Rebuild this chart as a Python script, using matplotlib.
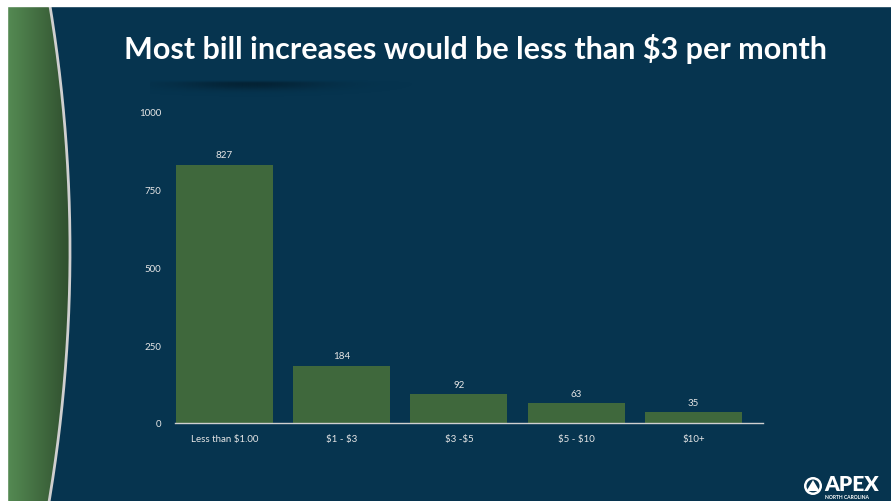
import numpy as np
import matplotlib
matplotlib.use("Agg")
import matplotlib.pyplot as plt
from matplotlib.patches import Rectangle, Polygon, Circle

plt.rcParams["text.parse_math"] = False

# ---- data ----
categories = ["Less than $1.00", "$1 - $3", "$3 -$5", "$5 - $10", "$10+"]
counts = [827, 184, 92, 63, 35]
yticks = [0, 250, 500, 750, 1000]
title = "Most bill increases would be less than $3 per month"

NAVY = "#06344F"
BAR = "#3F683C"
TXT = "#E6E6E6"

W, H = 891, 502
fig = plt.figure(figsize=(W / 100, H / 100), dpi=100)
fig.patch.set_facecolor(NAVY)

# ---- background decoration (pixel coordinates) ----
bg = fig.add_axes([0, 0, 1, 1], zorder=0)
bg.set_xlim(0, W)
bg.set_ylim(H, 0)
bg.axis("off")
bg.add_patch(Rectangle((0, 0), W, H, color=NAVY, zorder=0))

ys = np.linspace(0, H, 300)
xc = 70 - 20 * ((ys - 252) / 245.0) ** 2

# green gradient band clipped to the curve
grad = np.linspace(0, 1, 200)[None, :]
c0 = np.array([0x55, 0x8B, 0x53]) / 255
c1 = np.array([0x2E, 0x4D, 0x2D]) / 255
img = c0[None, None, :] * (1 - grad[..., None]) + c1[None, None, :] * grad[..., None]
img = np.repeat(img, 2, axis=0)
im = bg.imshow(img, extent=[7, 72, H, 0], aspect="auto", zorder=1, interpolation="bilinear")
poly = Polygon(np.column_stack([np.r_[7, xc, 7], np.r_[0, ys, H]]), closed=True,
               transform=bg.transData, facecolor="none", edgecolor="none")
bg.add_patch(poly)
im.set_clip_path(poly)
bg.plot(xc, ys, color="#CFCFCF", lw=2.0, zorder=2)

# white margins
bg.add_patch(Rectangle((0, 0), W, 7, color="white", zorder=5))
bg.add_patch(Rectangle((0, 0), 7, H, color="white", zorder=5))

# title shadow
gx = np.linspace(-1, 1, 300)
gy = np.linspace(-1, 1, 60)
GX, GY = np.meshgrid(gx, gy)
alpha = np.exp(-((GX + 0.3) ** 2) / 0.25) * np.exp(-(GY ** 2) / 0.15) * 0.55
alpha[GY < -0.1] *= np.clip((GY[GY < -0.1] + 0.25) / 0.15, 0, 1)
shadow = np.zeros((60, 300, 4))
shadow[..., 0:3] = np.array([0x03, 0x15, 0x20]) / 255
shadow[..., 3] = alpha
bg.imshow(shadow, extent=[150, 440, 100, 70], aspect="auto", zorder=1, interpolation="bilinear")

# title
fig.text(476 / W, 1 - 49 / H, title, color="white", fontsize=22, fontweight="bold",
         family="Lato", ha="center", va="center")

# logo
bg.add_patch(Circle((813, 487), 9, facecolor="white", edgecolor="none", zorder=3))
bg.add_patch(Circle((813, 487), 6.5, facecolor=NAVY, edgecolor="none", zorder=3))
bg.add_patch(Polygon([[806.5, 492], [813, 481], [819.5, 492]], closed=True,
                     facecolor="white", edgecolor="none", zorder=4))
bg.text(824, 485, "APEX", color="white", fontsize=15, fontweight="heavy", family="Lato",
        ha="left", va="center", zorder=4)
bg.text(825, 497.5, "NORTH CAROLINA", color="white", fontsize=3.6, fontweight="bold",
        family="Lato", ha="left", va="center", zorder=4)

# ---- chart ----
ax = fig.add_axes([175 / W, (H - 424) / H, 588 / W, 312 / H], zorder=2)
ax.set_facecolor("none")
x = np.arange(len(categories))
bars = ax.bar(x, counts, width=0.827, color=BAR, edgecolor="none")
ax.bar_label(bars, labels=[str(v) for v in counts], padding=4, color=TXT,
             fontsize=7, family="Lato")
ax.set_xlim(-0.422, 4.593)
ax.set_ylim(0, 1000)
ax.set_yticks(yticks)
ax.set_yticklabels([str(t) for t in yticks])
ax.set_xticks(x)
ax.set_xticklabels(categories)
ax.tick_params(axis="both", length=0, colors=TXT, labelsize=7)
ax.tick_params(axis="y", pad=10)
ax.tick_params(axis="x", pad=8)
for lab in ax.get_xticklabels() + ax.get_yticklabels():
    lab.set_family("Lato")
for s in ["top", "right", "left"]:
    ax.spines[s].set_visible(False)
ax.spines["bottom"].set_color("#D0D0D0")
ax.spines["bottom"].set_linewidth(1.0)

fig.savefig("out.png", dpi=100, facecolor=NAVY)
